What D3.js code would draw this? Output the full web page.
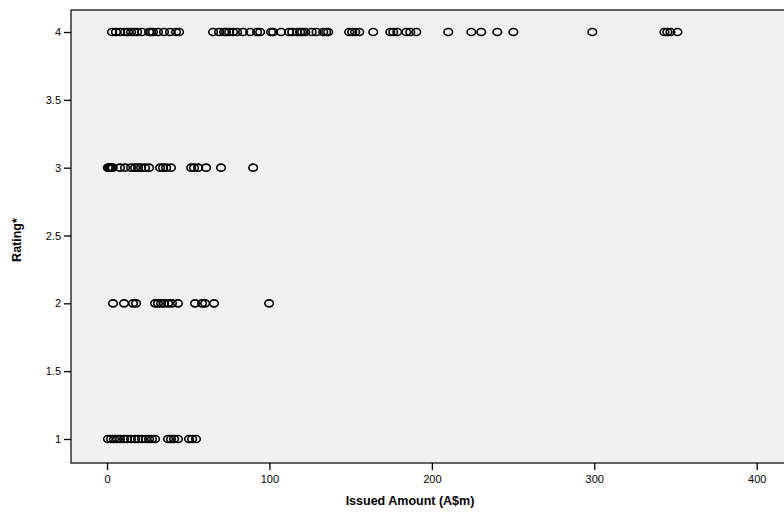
<!DOCTYPE html>
<html>
<head>
<meta charset="utf-8">
<script src="https://cdn.jsdelivr.net/npm/d3@7"></script>
<style>
  body { margin: 0; background: #fff; }
  svg { display: block; }
  .tick text { font-family: "Liberation Sans", Arial, sans-serif; font-size: 11px; fill: #000; }
</style>
</head>
<body>
<div id="chart"></div>
<script>
// issued amounts (A$m) per rating level
const rating4 = [3.1, 5.5, 8, 11.1, 12.9, 14.8, 16.6, 18.5, 21.6, 25.9, 27.1, 28.3, 31.4, 35.1, 38.8,
  42.5, 44.4, 65.3, 69, 72.1, 73.3, 75.2, 77.6, 80.1, 83.8, 88.1, 92.4, 94.3, 101, 102.3, 107.2,
  112.1, 114, 117.1, 118.9, 120.1, 122, 126, 129, 133.1, 134.9, 136.2, 149.1, 151, 152.8, 155.3,
  163.9, 174.4, 176.2, 178.7, 184.2, 186.7, 190.4, 210.1, 224.3, 230.4, 240.3, 250.2, 298.8,
  343.2, 345, 346.9, 351.2];
const rating3 = [0.5, 1.2, 2, 2.8, 3.5, 8, 11.1, 14.8, 17.3, 19.1, 21, 23.4, 25.9, 32.7, 34.5,
  36.4, 39.4, 51.8, 53.6, 56.1, 61, 70.2, 90];
const rating2 = [3.7, 10.5, 16, 17.9, 29.6, 31.4, 33.3, 35.1, 37.6, 40, 43.7, 54.2, 58.5, 60.4,
  65.9, 99.8];
const rating1 = [0.6, 2.5, 4.3, 6.2, 8, 10.5, 12.3, 14.8, 17.3, 19.1, 21.6, 24, 25.9, 27.7, 29.6,
  37.6, 39.4, 41.3, 43.7, 50.5, 52.4, 54.8];

const xTicks = [0, 100, 200, 300, 400];
const yTicks = [1, 1.5, 2, 2.5, 3, 3.5, 4];

const points = [];
[[1, rating1], [2, rating2], [3, rating3], [4, rating4]].forEach(([r, arr]) => {
  arr.forEach(v => points.push({ amount: v, rating: r }));
});

const width = 784, height = 514;

const x = d3.scaleLinear().domain([0, 400]).range([107, 756.7]);
const y = d3.scaleLinear().domain([1, 4]).range([439, 32]);

// plot box extends beyond the right edge of the picture
const plotLeft = 71, plotTop = 10, plotBottom = 463, plotRight = 800;

const svg = d3.select('#chart').append('svg')
  .attr('width', width)
  .attr('height', height);

svg.append('rect')
  .attr('x', plotLeft)
  .attr('y', plotTop)
  .attr('width', plotRight - plotLeft)
  .attr('height', plotBottom - plotTop)
  .attr('fill', '#f0f0f0')
  .attr('stroke', '#000')
  .attr('stroke-width', 1.2);

// x axis
const xAxis = svg.append('g')
  .attr('transform', `translate(0,${plotBottom})`)
  .call(d3.axisBottom(x).tickValues(xTicks).tickSize(7).tickPadding(5).tickFormat(d3.format('d')));
xAxis.select('.domain').remove();
xAxis.selectAll('.tick line').attr('stroke', '#000').attr('stroke-width', 1.3);

// y axis
const yAxis = svg.append('g')
  .attr('transform', `translate(${plotLeft},0)`)
  .call(d3.axisLeft(y).tickValues(yTicks).tickSize(7).tickPadding(3).tickFormat(d => d));
yAxis.select('.domain').remove();
yAxis.selectAll('.tick line').attr('stroke', '#000').attr('stroke-width', 1.3);

svg.append('text')
  .attr('x', 410)
  .attr('y', 505)
  .attr('text-anchor', 'middle')
  .style('font-family', '"Liberation Sans", Arial, sans-serif')
  .style('font-size', '12.5px')
  .style('font-weight', 'bold')
  .text('Issued Amount (A$m)');

svg.append('text')
  .attr('transform', 'translate(21,240) rotate(-90)')
  .attr('text-anchor', 'middle')
  .style('font-family', '"Liberation Sans", Arial, sans-serif')
  .style('font-size', '12.5px')
  .style('font-weight', 'bold')
  .text('Rating*');

// open markers
svg.append('g')
  .selectAll('ellipse')
  .data(points)
  .enter()
  .append('ellipse')
  .attr('cx', d => x(d.amount))
  .attr('cy', d => y(d.rating))
  .attr('rx', 4.3)
  .attr('ry', 3.5)
  .attr('fill', 'none')
  .attr('stroke', '#000')
  .attr('stroke-width', 1.6);
</script>
</body>
</html>
